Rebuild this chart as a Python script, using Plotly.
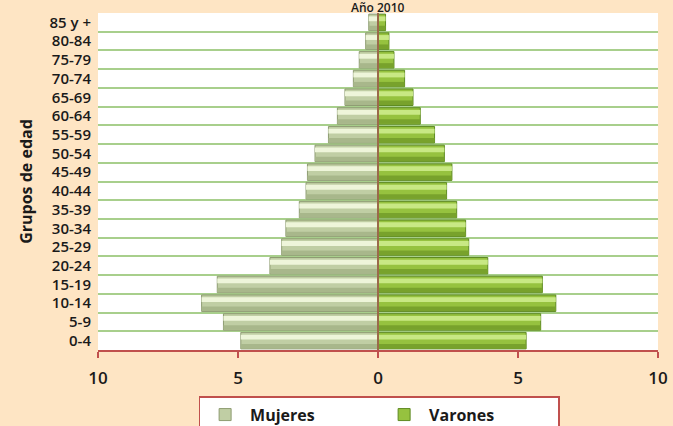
import plotly.graph_objects as go

# ---- data, bottom to top ----
age_groups = ["0-4", "5-9", "10-14", "15-19", "20-24", "25-29", "30-34", "35-39",
              "40-44", "45-49", "50-54", "55-59", "60-64", "65-69", "70-74",
              "75-79", "80-84", "85 y +"]
mujeres = [4.90, 5.52, 6.30, 5.74, 3.86, 3.44, 3.29, 2.81, 2.57, 2.52,
           2.25, 1.77, 1.45, 1.18, 0.88, 0.67, 0.44, 0.33]
varones = [5.29, 5.81, 6.35, 5.87, 3.92, 3.24, 3.13, 2.81, 2.45, 2.64,
           2.37, 2.02, 1.51, 1.25, 0.95, 0.57, 0.39, 0.27]
x_tick_vals = [-10, -5, 0, 5, 10]
x_tick_text = ["10", "5", "0", "5", "10"]
title_text = "Año 2010"

# ---- styling ----
BG = "#FEE5C4"
F_BASE, F_LOW, F_HI, F_LINE = "#C0CEA4", "#A8B78B", "#EEF5DA", "#8E9C72"
M_BASE, M_LOW, M_HI, M_LINE = "#96C23F", "#78A22C", "#C8E884", "#5E8A22"
RED = "#C0504D"
FONT = "Open Sans"
INK = "#1a1a1a"

ypos = list(range(len(age_groups)))
neg_mujeres = [-v for v in mujeres]

fig = go.Figure()

# base bars (in legend)
fig.add_trace(go.Bar(y=ypos, x=neg_mujeres, orientation="h", name="Mujeres",
                     width=0.88, marker=dict(color=F_BASE, line=dict(color=F_LINE, width=1)),
                     hoverinfo="skip"))
fig.add_trace(go.Bar(y=ypos, x=varones, orientation="h", name="Varones",
                     width=0.88, marker=dict(color=M_BASE, line=dict(color=M_LINE, width=1)),
                     hoverinfo="skip"))
# darker lower part (bevel)
for vals, col in ((neg_mujeres, F_LOW), (varones, M_LOW)):
    fig.add_trace(go.Bar(y=ypos, x=vals, orientation="h", showlegend=False,
                         width=0.24, offset=-0.42, marker=dict(color=col, line=dict(width=0)),
                         hoverinfo="skip"))
# glossy highlight strip
for vals, col in ((neg_mujeres, F_HI), (varones, M_HI)):
    fig.add_trace(go.Bar(y=ypos, x=vals, orientation="h", showlegend=False,
                         width=0.26, offset=0.06, marker=dict(color=col, line=dict(width=0)),
                         hoverinfo="skip"))

fig.add_vline(x=0, line=dict(color="#9A6A4A", width=2), layer="above")

fig.add_annotation(text=title_text, x=0.5, xref="paper", y=1, yref="paper",
                   yanchor="middle", yshift=6, borderpad=0, showarrow=False,
                   font=dict(family=FONT, size=12, color=INK, weight=600))

fig.update_layout(
    width=673, height=426,
    margin=dict(l=98, r=15, t=13, b=76, autoexpand=False),
    paper_bgcolor=BG, plot_bgcolor="#FFFFFF",
    barmode="overlay",
    showlegend=True,
    legend=dict(orientation="h", x=0.502, xanchor="center", y=-0.137, yanchor="top",
                bgcolor="#FFFFFF", bordercolor=RED, borderwidth=1.5,
                font=dict(family=FONT, size=16, color=INK, weight=700),
                entrywidth=124, itemwidth=40, traceorder="normal"),
    font=dict(family=FONT, color=INK),
)

fig.update_xaxes(range=[-10, 10], tickvals=x_tick_vals, ticktext=x_tick_text,
                 showgrid=False, zeroline=False, automargin=False,
                 showline=True, linecolor=RED, linewidth=1.5,
                 ticks="outside", tickcolor=RED, ticklen=6, tickwidth=1.5,
                 ticklabelstandoff=6,
                 tickfont=dict(family=FONT, size=17, color=INK, weight=600),
                 fixedrange=True)
fig.update_yaxes(range=[-0.5, len(age_groups) - 0.5], tickvals=ypos, ticktext=age_groups,
                 showgrid=False, zeroline=False, showline=False, ticks="",
                 automargin=False, ticklabelstandoff=6,
                 tickfont=dict(family=FONT, size=15, color=INK, weight=600),
                 title=dict(text="Grupos de edad", standoff=12,
                            font=dict(family=FONT, size=16, color=INK, weight=700)),
                 minor=dict(tickvals=[i + 0.5 for i in range(len(age_groups) - 1)],
                            showgrid=True, gridcolor="#A8CF8C", gridwidth=1.5),
                 fixedrange=True)

fig.write_html("out.html", config={"displayModeBar": False},
               post_script="document.body.style.margin='0';document.body.style.background='" + BG + "';")
